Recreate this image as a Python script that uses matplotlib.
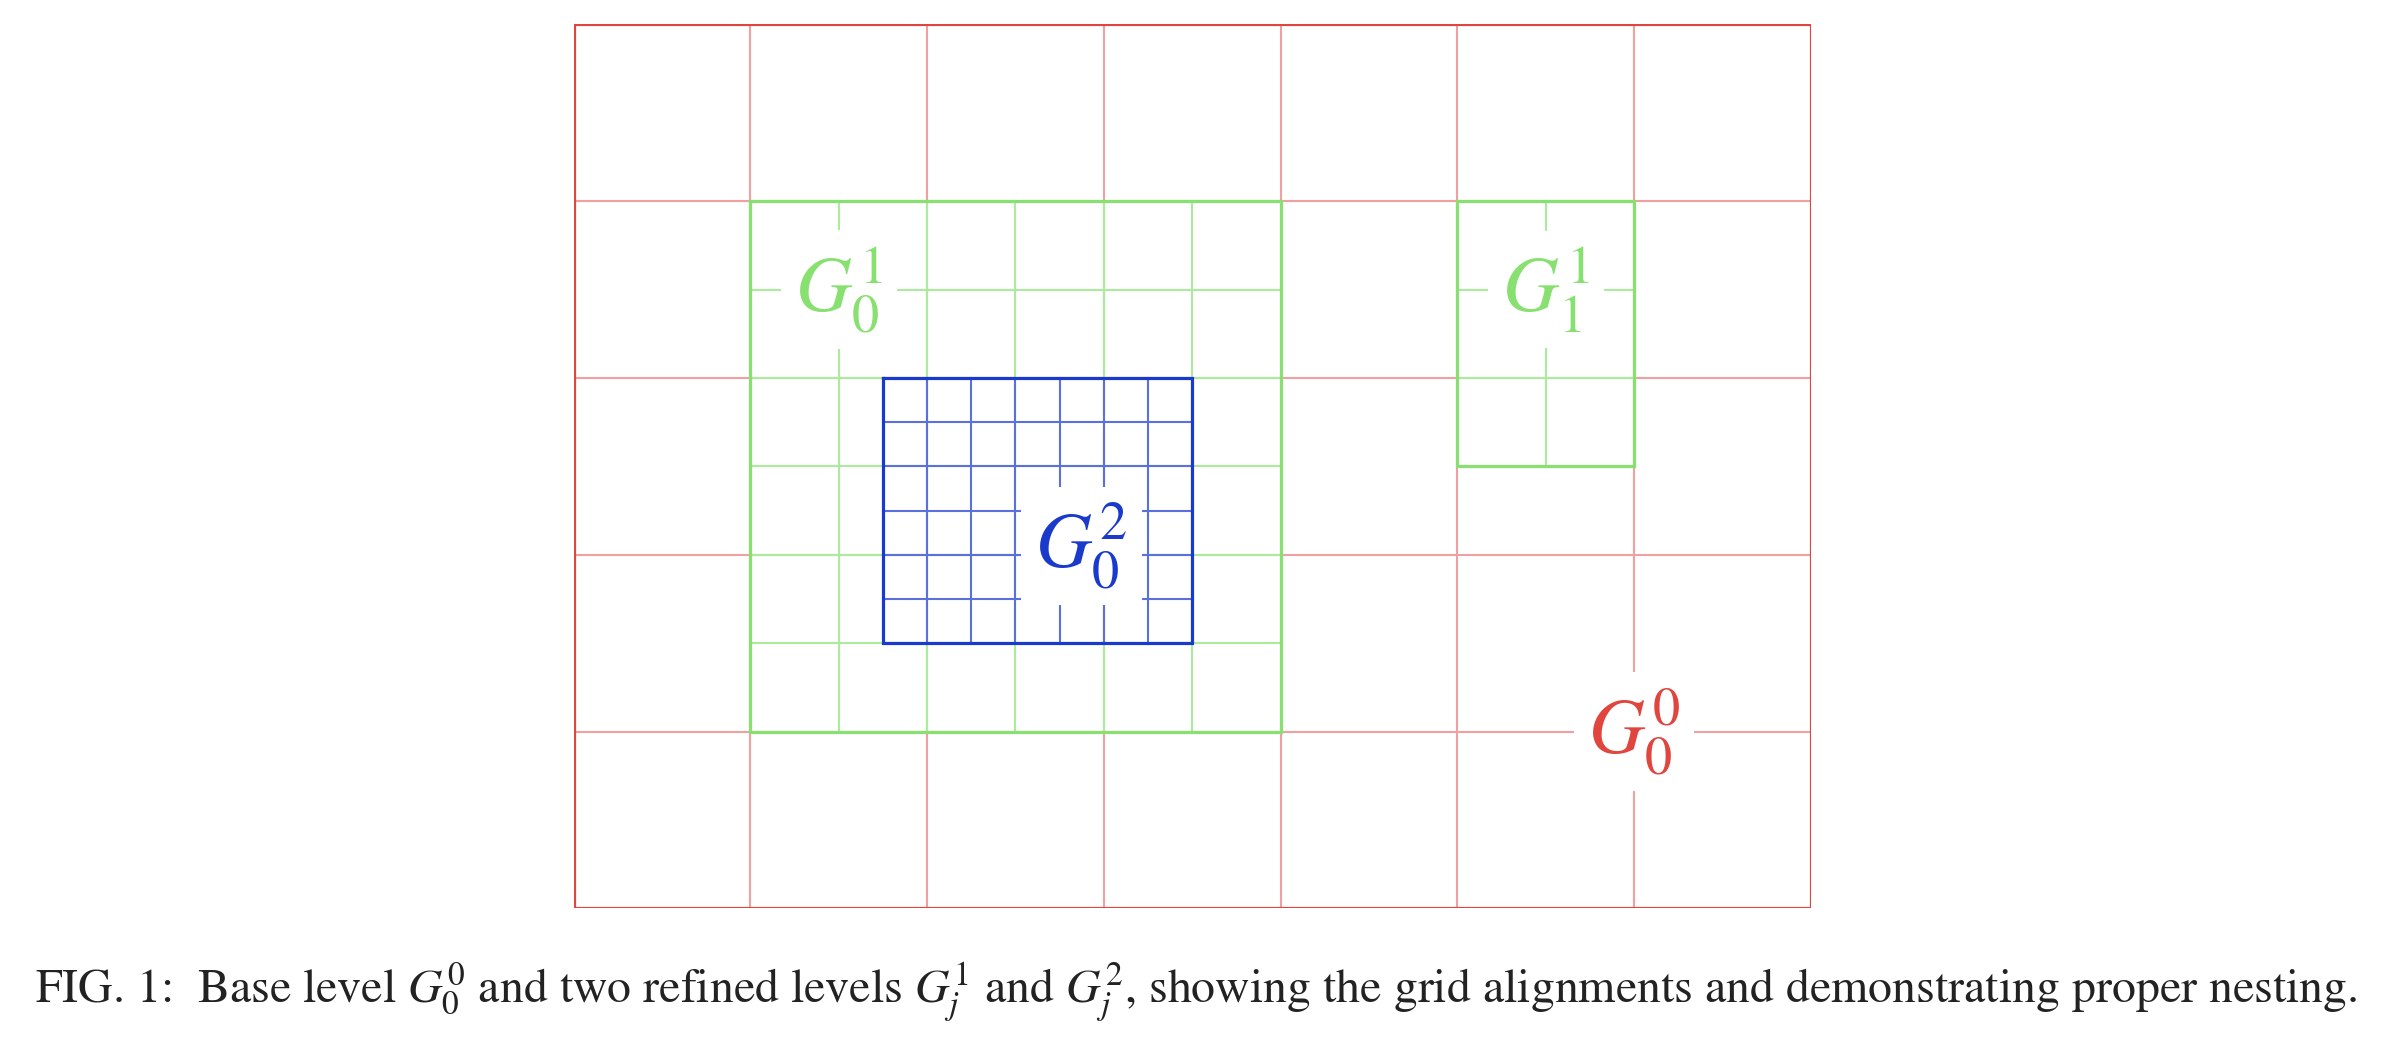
import matplotlib
matplotlib.use("Agg")
import matplotlib.pyplot as plt
import numpy as np

plt.rcParams['mathtext.fontset'] = 'stix'
plt.rcParams['font.family'] = 'STIXGeneral'

# grid definitions: (x0, x1, y0, y1, cell size) in base-cell units, y measured from top
base = (0, 7, 0, 5, 1.0)
level1 = [(1, 4, 1, 4, 0.5), (5, 6, 1, 2.5, 0.5)]
level2 = [(1.75, 3.5, 2, 3.5, 0.25)]
labels = [(1.5, 1.5, r'$G_0^1$', 'l1'), (5.5, 1.5, r'$G_1^1$', 'l1'),
          (2.875, 2.95, r'$G_0^2$', 'l2'), (6.0, 4.0, r'$G_0^0$', 'l0')]
caption = (r'FIG. 1:  Base level $G_0^0$ and two refined levels $G_j^1$ and $G_j^2$, '
           'showing the grid alignments and demonstrating proper nesting.')

colors = {'l0': ('#f0a0a0', '#e0463e'), 'l1': ('#a8ec9c', '#88e070'), 'l2': ('#5a70dd', '#1a3acc')}

fig = plt.figure(figsize=(23.92, 10.44), dpi=100)
ax = fig.add_axes([0.2398, 0.130, 0.5172, 0.8466])
ax.set_xlim(0, 7)
ax.set_ylim(5, 0)
ax.axis('off')

def draw(g, key, z):
    x0, x1, y0, y1, d = g
    inner, outer = colors[key]
    for x in np.arange(x0 + d, x1 - 1e-9, d):
        ax.plot([x, x], [y0, y1], color=inner, lw=1.5, zorder=z)
    for y in np.arange(y0 + d, y1 - 1e-9, d):
        ax.plot([x0, x1], [y, y], color=inner, lw=1.5, zorder=z)
    ax.plot([x0, x1, x1, x0, x0], [y0, y0, y1, y1, y0], color=outer, lw=2.3, zorder=z + 0.5,
            solid_joinstyle='miter')

draw(base, 'l0', 1)
for g in level1:
    draw(g, 'l1', 2)
for g in level2:
    draw(g, 'l2', 3)

for x, y, t, key in labels:
    ax.text(x, y, t, color=colors[key][1], fontsize=56, ha='center', va='center', zorder=5,
            bbox=dict(facecolor='white', edgecolor='none', pad=10))

fig.text(0.5, 0.05, caption, ha='center', va='center', fontsize=34.5, color='#222222')
fig.savefig('out.png', dpi=100)
